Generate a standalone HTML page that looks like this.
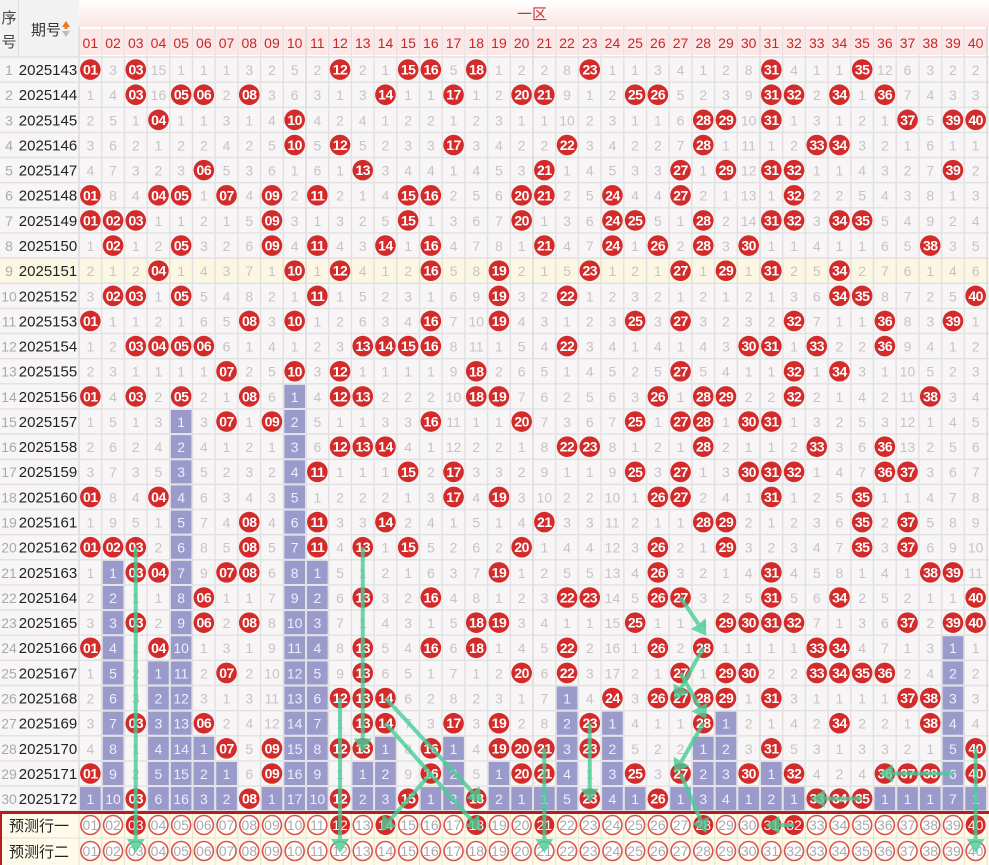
<!DOCTYPE html>
<html><head><meta charset="utf-8">
<style>
html,body{margin:0;padding:0;background:#fff;}
svg{display:block;font-family:"Liberation Sans","Noto Sans CJK SC",sans-serif;}
</style></head>
<body>
<svg id="s" width="989" height="865" viewBox="0 0 989 865" xmlns="http://www.w3.org/2000/svg"></svg>
<script>
const S=document.getElementById('s');
let out='';
const X0=79,W=22.7,Y0=57,H=25.14;
const cx=c=>X0+(c-0.5)*W, cy=r=>Y0+(r-0.5)*H;
const hits=[
[1,3,12,15,16,18,23,31,35],
[3,5,6,8,14,17,20,21,25,26,31,32,34,36],
[4,10,28,29,31,37,39,40],
[10,12,17,22,28,33,34],
[6,13,21,27,29,31,32,39],
[1,4,5,7,9,11,15,16,20,21,24,27,32],
[1,2,3,9,15,20,24,25,28,31,32,34,35],
[2,5,9,11,14,16,21,24,26,28,30,38],
[4,10,12,16,19,23,27,29,31,34],
[2,3,5,11,19,22,34,35,40],
[1,8,10,16,19,25,27,32,36,39],
[3,4,5,6,13,14,15,16,22,30,31,33,36],
[7,10,12,18,27,32,34],
[1,3,5,8,12,13,18,19,26,28,29,32,38],
[7,9,16,20,25,27,28,30,31],
[12,13,14,22,23,28,33,36],
[11,15,17,25,27,30,31,32,36,37],
[1,4,17,19,26,27,31,35],
[8,11,14,21,28,29,35,37],
[1,2,3,8,11,13,15,20,26,29,35,37],
[3,4,7,8,19,26,31,38,39],
[6,13,16,22,23,26,27,31,34,40],
[3,6,8,18,19,25,29,30,31,32,37,39,40],
[1,4,13,16,18,22,26,28,33,34],
[7,13,20,22,27,29,30,33,34,35,36],
[12,13,14,24,26,27,28,29,31,37,38],
[3,6,13,14,17,19,23,28,34,38],
[7,9,12,13,16,19,20,21,23,31,40],
[1,9,16,20,21,25,27,30,32,36,37,38,40],
[3,8,12,15,18,23,26,33,34,35]
];
const init=[0,3,0,15,1,1,1,3,2,5,2,0,2,1,0,0,5,0,1,2,2,8,0,1,1,3,4,1,2,8,0,4,1,1,0,12,6,3,2,2];
const pad=n=>(n<10?'0':'')+n;
// header
out+=`<defs><linearGradient id="g" x1="0" y1="0" x2="0" y2="1"><stop offset="0" stop-color="#fff"/><stop offset="1" stop-color="#fbe4e4"/></linearGradient></defs>`;
out+=`<rect x="0" y="0" width="79" height="57" fill="#f2f2f2"/>`;
out+=`<rect x="79" y="0" width="910" height="27" fill="url(#g)"/>`;
out+=`<rect x="79" y="27" width="910" height="30" fill="#fff"/>`;
out+=`<line x1="18.5" y1="0" x2="18.5" y2="812" stroke="#ddd"/>`;
out+=`<text x="9" y="23" font-size="15" fill="#444" text-anchor="middle">序</text><text x="9" y="47" font-size="15" fill="#444" text-anchor="middle">号</text>`;
out+=`<text x="46" y="35" font-size="15" fill="#333" text-anchor="middle">期号</text>`;
out+=`<path d="M62 27 L66 21 L70 27 Z" fill="#f07a1a"/><rect x="64.5" y="26" width="3" height="3" fill="#f07a1a"/><path d="M62 31 L66 37 L70 31 Z" fill="#bbb"/>`;
out+=`<text x="532" y="19" font-size="15" fill="#c33" text-anchor="middle">一区</text>`;
for(let c=1;c<=40;c++){
  out+=`<rect x="${X0+(c-1)*W+1}" y="29" width="${W-2}" height="26" fill="#fce6e6"/>`;
  out+=`<text x="${cx(c)}" y="48" font-size="14" fill="#c62828" text-anchor="middle">${pad(c)}</text>`;
}
// compute misses
let miss=[],grid=[];
for(let r=0;r<30;r++){
  let row=[];
  for(let c=1;c<=40;c++){
    const h=hits[r].includes(c);
    let m;
    if(r===0) m=h?0:init[c-1]; else m=h?0:miss[c-1]+1;
    miss[c-1]=m; row.push(h?0:m);
  }
  grid.push(row);
}
let last=[];
for(let c=0;c<40;c++){let L=-1;for(let r=0;r<30;r++) if(grid[r][c]===0) L=r; last[c]=L;}
// data rows
for(let r=0;r<30;r++){
  const y=Y0+r*H;
  out+=`<rect x="0" y="${y}" width="989" height="${H}" fill="${r===8?'#fcf7e3':'#f7f5f6'}"/>`;
  out+=`<text x="9" y="${y+18}" font-size="14" fill="#aaa" text-anchor="middle">${r+1}</text>`;
  out+=`<text x="48" y="${y+18}" font-size="15" fill="#222" text-anchor="middle">${2025143+r}</text>`;
}
// grid lines
for(let r=0;r<=30;r++){const y=Y0+r*H;out+=`<line x1="0" y1="${y}" x2="989" y2="${y}" stroke="#e2e0e0" stroke-width="1.4"/>`;}
for(let c=0;c<=40;c++){const x=X0+c*W;out+=`<line x1="${x}" y1="27" x2="${x}" y2="812" stroke="#e2e0e0" stroke-width="${(c%10===0)?2:1.4}"/>`;}
for(let r=0;r<30;r++){
  const y=Y0+r*H;
  for(let c=1;c<=40;c++){
    const v=grid[r][c-1];
    if(v===0){
      out+=`<circle cx="${cx(c)}" cy="${cy(r+1)}" r="10.3" fill="#d32a2a"/>`;
      out+=`<text x="${cx(c)}" y="${cy(r+1)+5}" font-size="14" font-weight="bold" fill="#fff" text-anchor="middle" letter-spacing="-0.5">${pad(c)}</text>`;
    } else if(r>last[c-1]){
      out+=`<rect x="${X0+(c-1)*W+1}" y="${y+1}" width="${W-2}" height="${H-2}" fill="#9a9acb"/>`;
      out+=`<text x="${cx(c)}" y="${y+18}" font-size="14" fill="#eef" text-anchor="middle">${v}</text>`;
    } else {
      out+=`<text x="${cx(c)}" y="${y+18}" font-size="14" fill="#c9c2c4" text-anchor="middle">${v}</text>`;
    }
  }
}
// bottom prediction rows
const PY=812;
out+=`<rect x="0" y="${PY}" width="989" height="53" fill="#fffbea"/>`;
out+=`<line x1="0" y1="${PY+26}" x2="989" y2="${PY+26}" stroke="#e6e2d0"/>`;
for(let c=0;c<=40;c++){const x=X0+c*W;out+=`<line x1="${x}" y1="${PY}" x2="${x}" y2="865" stroke="#e6e2d0"/>`;}
out+=`<text x="39" y="${PY+19}" font-size="15" fill="#222" text-anchor="middle">预测行一</text>`;
out+=`<text x="39" y="${PY+45}" font-size="15" fill="#222" text-anchor="middle">预测行二</text>`;
const pf=[3,12,14,18,21,28,31,32,40];
for(let k=0;k<2;k++){
  const yc=PY+13+k*26;
  for(let c=1;c<=40;c++){
    if(k===0&&pf.includes(c)){
      out+=`<circle cx="${cx(c)}" cy="${yc}" r="10" fill="#d32a2a"/>`;
      out+=`<text x="${cx(c)}" y="${yc+5}" font-size="14" fill="#fff" text-anchor="middle">${pad(c)}</text>`;
    } else {
      out+=`<circle cx="${cx(c)}" cy="${yc}" r="9.5" fill="#fff" stroke="#d9534f" stroke-width="1.6"/>`;
      out+=`<text x="${cx(c)}" y="${yc+5}" font-size="14" fill="#aaa" text-anchor="middle">${pad(c)}</text>`;
    }
  }
}
out+=`<rect x="0" y="${PY-1}" width="989" height="3" fill="#b81c1c"/>`;
out+=`<line x1="1" y1="${PY}" x2="1" y2="865" stroke="#b81c1c" stroke-width="2"/>`;
// arrows
function arrow(x1,y1,x2,y2){
  const dx=x2-x1,dy=y2-y1,L=Math.hypot(dx,dy),ux=dx/L,uy=dy/L;
  const hl=14,hw=9;
  const bx=x2-ux*hl,by=y2-uy*hl;
  out+=`<line x1="${x1}" y1="${y1}" x2="${bx}" y2="${by}" stroke="rgba(70,205,150,0.8)" stroke-width="4"/>`;
  out+=`<path d="M${x2} ${y2} L${bx-uy*hw} ${by+ux*hw} L${bx+uy*hw} ${by-ux*hw} Z" fill="rgba(70,205,150,0.8)"/>`;
}
const P1=PY+13,P2=PY+39;
arrow(cx(3),cy(20),cx(3),P2+2);
arrow(cx(13),cy(20),cx(13),cy(28)+4);
arrow(cx(12),cy(26),cx(12),P2+2);
arrow(cx(14),cy(26),cx(18)+6,cy(30)+4);
arrow(cx(14),cy(27),cx(18)+5,P1+6);
arrow(cx(16),cy(29),cx(14)-5,P1+6);
arrow(cx(21),cy(28),cx(21),P2+2);
arrow(cx(23),cy(27),cx(23),cy(30)+4);
arrow(cx(27),cy(22),cx(28)+3,cy(24)-12);
arrow(cx(28),cy(24),cx(27)-6,cy(26)+2);
arrow(cx(27),cy(25),cx(28)+3,cy(27)-4);
arrow(cx(28),cy(27),cx(27)-6,cy(29));
arrow(cx(27),cy(29),cx(28)+3,P1+8);
arrow(cx(35),cy(30),cx(33)-6,cy(30));
arrow(cx(32),P1,cx(31)-6,P1);
arrow(cx(39),cy(29),cx(36)-6,cy(29));
arrow(cx(40),cy(28),cx(40),P2+2);
S.innerHTML=out;
</script>
</body></html>
